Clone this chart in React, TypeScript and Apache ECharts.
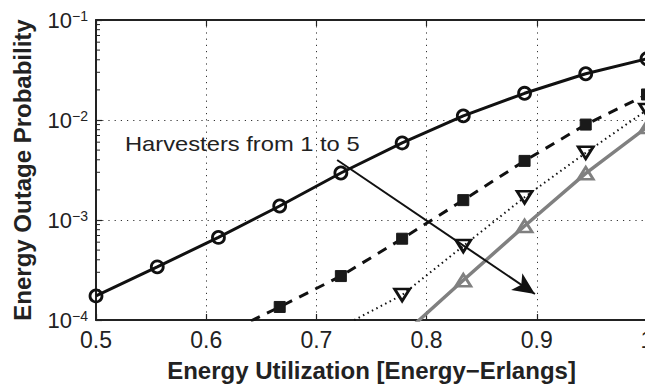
import React, { useEffect, useRef } from "react";
import * as echarts from "echarts";

const FONT = "'Liberation Sans', Arial, Helvetica, sans-serif";

// Energy utilization values where markers sit
const utilization = [0.5, 0.5556, 0.6111, 0.6667, 0.7222, 0.7778, 0.8333, 0.8889, 0.9444, 1.0];

// Outage probability per number of harvesters (null = not shown)
const harvester1 = [1.74e-4, 3.4e-4, 6.7e-4, 1.38e-3, 2.95e-3, 5.9e-3, 1.1e-2, 1.85e-2, 2.9e-2, 4.1e-2];
const harvester2 = [null, null, 6.8e-5, 1.35e-4, 2.75e-4, 6.5e-4, 1.58e-3, 3.9e-3, 9.0e-3, 1.8e-2];
const harvester3 = [null, null, null, null, 8.5e-5, 1.78e-4, 5.5e-4, 1.69e-3, 4.7e-3, 1.26e-2];
const harvester4 = [null, null, null, null, null, 7.0e-5, 2.5e-4, 8.7e-4, 2.93e-3, 8.5e-3];

const xTicks = [0.5, 0.6, 0.7, 0.8, 0.9, 1.0];
const yMinorTicks = [
  2e-4, 3e-4, 4e-4, 5e-4, 6e-4, 7e-4, 8e-4, 9e-4,
  2e-3, 3e-3, 4e-3, 5e-3, 6e-3, 7e-3, 8e-3, 9e-3,
  2e-2, 3e-2, 4e-2, 5e-2, 6e-2, 7e-2, 8e-2, 9e-2,
];

const annotationText = "Harvesters from 1 to 5";
const arrowFrom = [0.7188, 3.98e-3];
const arrowTo = [0.8983, 1.82e-4];

const pairs = (ys: (number | null)[]) =>
  utilization
    .map((x, i) => (ys[i] == null ? null : [x, ys[i] as number]))
    .filter((p) => p !== null);

export default function App() {
  const ref = useRef<HTMLDivElement>(null);

  useEffect(() => {
    if (!ref.current) return;
    const chart = echarts.init(ref.current, null, { renderer: "svg" });
    const axisColor = "#222";
    const splitLine = {
      show: true,
      lineStyle: { color: "#333", width: 1, type: [1.2, 5] as any },
    };

    chart.setOption({
      animation: false,
      backgroundColor: "#fff",
      textStyle: { fontFamily: FONT },
      grid: { left: 96, top: 20, width: 551, height: 300, containLabel: false },
      xAxis: [
        {
          type: "value",
          min: xTicks[0],
          max: xTicks[xTicks.length - 1],
          interval: 0.1,
          axisLine: { show: true, lineStyle: { color: axisColor, width: 2 } },
          axisTick: { show: true, inside: true, length: 6, lineStyle: { color: axisColor, width: 1.2 } },
          axisLabel: { fontSize: 23, color: "#222", margin: 8, fontFamily: FONT },
          splitLine,
          name: "Energy Utilization [Energy\u2212Erlangs]",
          nameLocation: "middle",
          nameGap: 38,
          nameTextStyle: { fontSize: 24, fontWeight: "bold", color: "#222", fontFamily: FONT },
        },
        {
          type: "value",
          position: "top",
          min: xTicks[0],
          max: xTicks[xTicks.length - 1],
          interval: 0.1,
          axisLine: { show: true, lineStyle: { color: axisColor, width: 2 } },
          axisTick: { show: true, inside: true, length: 6, lineStyle: { color: axisColor, width: 1.2 } },
          axisLabel: { show: false },
          splitLine: { show: false },
        },
      ],
      yAxis: {
        type: "log",
        logBase: 10,
        min: 1e-4,
        max: 1e-1,
        axisLine: { show: true, lineStyle: { color: axisColor, width: 2 } },
        axisTick: { show: true, inside: true, length: 6, lineStyle: { color: axisColor, width: 1.2 } },
        splitLine,
        axisLabel: {
          margin: 8,
          formatter: (v: number) => `{b|10}{s|\u2212${-Math.round(Math.log10(v))}}`,
          rich: {
            b: { fontSize: 22, lineHeight: 22, verticalAlign: "bottom", color: "#222", fontFamily: FONT },
            s: { fontSize: 14, lineHeight: 14, verticalAlign: "top", padding: [0, 0, 14, 0], color: "#222", fontFamily: FONT },
          },
        },
        name: "Energy Outage Probability",
        nameLocation: "middle",
        nameGap: 62,
        nameTextStyle: { fontSize: 24, fontWeight: "bold", color: "#222", fontFamily: FONT },
      },
      graphic: [
        {
          type: "text",
          left: 125,
          top: 133,
          style: { text: annotationText, fontSize: 21, fill: "#222", fontFamily: FONT },
          scaleX: 1.13,
        },
      ],
      series: [
        {
          type: "custom",
          silent: true,
          data: yMinorTicks.map((v) => [xTicks[0], v]),
          renderItem: (_p: any, api: any) => {
            const p = api.coord([api.value(0), api.value(1)]);
            return {
              type: "line",
              shape: { x1: p[0], y1: p[1], x2: p[0] + 4, y2: p[1] },
              style: { stroke: axisColor, lineWidth: 1 },
            };
          },
          z: 1,
        },
        {
          type: "line",
          data: pairs(harvester1),
          symbol: "circle",
          symbolSize: 12,
          itemStyle: { color: "rgba(0,0,0,0)", borderColor: "#111", borderWidth: 2.8 },
          lineStyle: { color: "#111", width: 3, type: "solid" },
          clip: true,
          z: 5,
          markLine: {
            silent: true,
            symbol: ["none", "arrow"],
            symbolSize: [15, 22],
            label: { show: false },
            lineStyle: { color: "#111", width: 2, type: "solid" },
            data: [[{ coord: arrowFrom }, { coord: arrowTo }]],
          },
        },
        {
          type: "line",
          data: pairs(harvester2),
          symbol: "rect",
          symbolSize: 11,
          itemStyle: { color: "#1a1a1a", borderColor: "#1a1a1a", borderWidth: 1 },
          lineStyle: { color: "#111", width: 3, type: [10, 8] as any },
          clip: true,
          z: 4,
        },
        {
          type: "line",
          data: pairs(harvester3),
          symbol: "triangle",
          symbolRotate: 180,
          symbolSize: [15, 12],
          itemStyle: { color: "rgba(0,0,0,0)", borderColor: "#111", borderWidth: 2.8 },
          lineStyle: { color: "#111", width: 2, type: [1.5, 3.5] as any },
          clip: true,
          z: 4,
        },
        {
          type: "line",
          data: pairs(harvester4),
          symbol: "triangle",
          symbolSize: [15, 12],
          itemStyle: { color: "rgba(0,0,0,0)", borderColor: "#808080", borderWidth: 2.8 },
          lineStyle: { color: "#808080", width: 3.5, type: "solid" },
          clip: true,
          z: 3,
        },
      ],
    });

    return () => chart.dispose();
  }, []);

  return (
    <div
      style={{
        position: "fixed",
        left: 0,
        top: 0,
        width: 645,
        height: 388,
        overflow: "hidden",
        background: "#fff",
      }}
    >
      <div ref={ref} style={{ width: 670, height: 388 }} />
    </div>
  );
}
